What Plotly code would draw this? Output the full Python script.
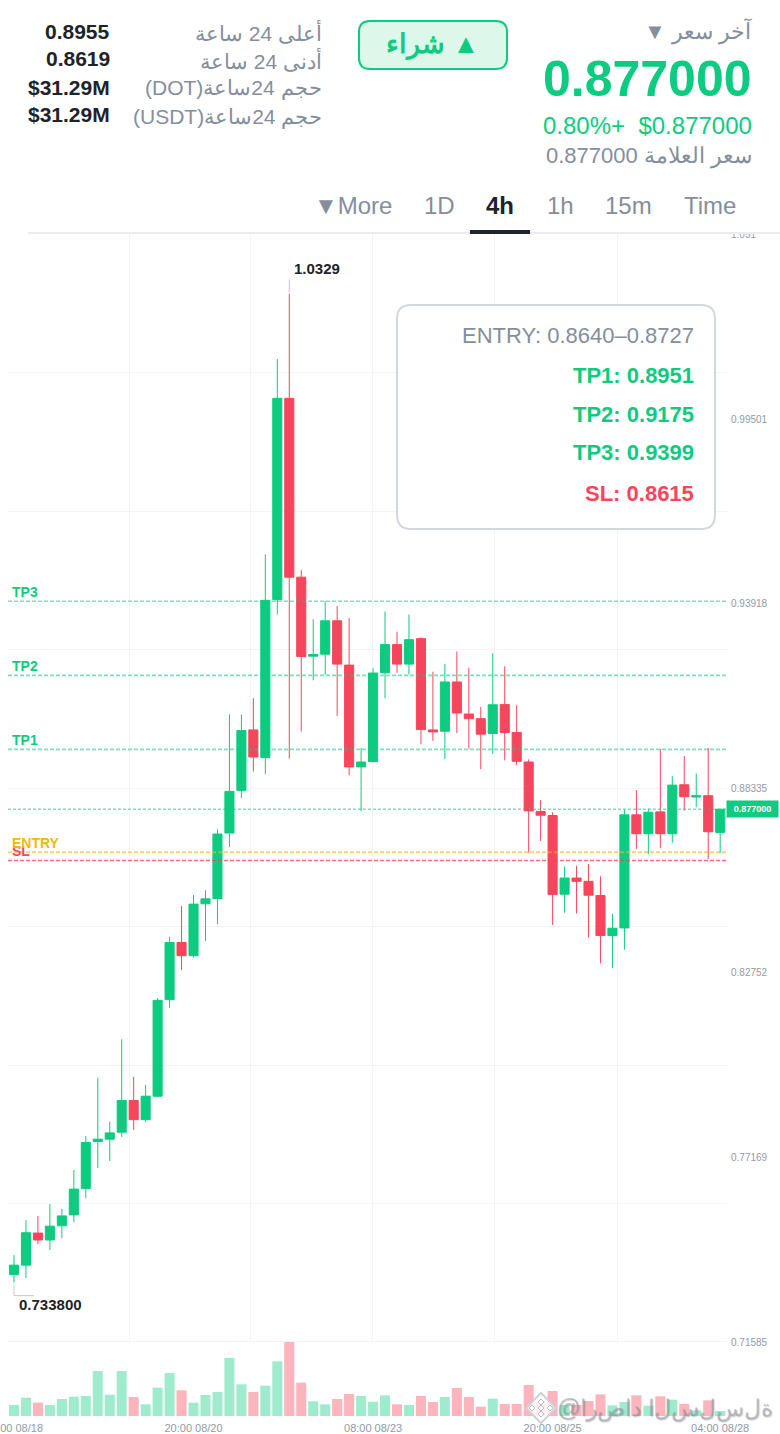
import plotly.graph_objects as go

W, H = 780, 1434

# 4h candles, 08:00 08/18 to 04:00 08/28
candle_idx = list(range(60))
tick_idx = [0, 15, 30, 45, 59]
tick_text = ["08:00 08/18", "20:00 08/20", "08:00 08/23", "20:00 08/25", "04:00 08/28"]

opens = [.7363, .7391, .7488, .7467, .7510, .7543, .7623, .7765, .7772, .7793,
         .7889, .7831, .7902, .8194, .8367, .8327, .8484, .8500, .8698, .8827,
         .9010, .8926, .9404, 1.0013, .9472, .9233, .9239, .9340, .9206, .8898,
         .8914, .9183, .9268, .9209, .9286, .9010, .9006, .9155, .9058, .9044,
         .8999, .9087, .9002, .8913, .8763, .8751, .8513, .8562, .8552, .8509,
         .8388, .8411, .8753, .8696, .8762, .8696, .8844, .8807, .8811, .8700]
closes = [.7391, .7489, .7467, .7509, .7540, .7621, .7762, .7772, .7791, .7889,
          .7831, .7902, .8192, .8367, .8327, .8483, .8499, .8695, .8824, .9008,
          .8928, .9402, 1.0013, .9472, .9232, .9238, .9340, .9209, .8898, .8913,
          .9182, .9268, .9209, .9283, .9011, .9004, .9155, .9061, .9044, .8997,
          .9086, .9002, .8915, .8765, .8752, .8512, .8562, .8552, .8510, .8388,
          .8410, .8753, .8696, .8761, .8696, .8843, .8808, .8811, .8702, .8770]
highs = [.7422, .7527, .7540, .7576, .7561, .7679, .7782, .7958, .7825, .8074,
         .7960, .7936, .8199, .8384, .8477, .8511, .8525, .8709, .9057, .9057,
         .9106, .9541, 1.0132, 1.0329, .9493, .9345, .9399, .9385, .9348, .8955,
         .9197, .9368, .9307, .9359, .9290, .9186, .9209, .9247, .9198, .9079,
         .9242, .9202, .9085, .8921, .8798, .8761, .8597, .8599, .8604, .8567,
         .8454, .8769, .8828, .8772, .8952, .8870, .8931, .8878, .8955, .8770]
lows = [.7338, .7352, .7455, .7437, .7473, .7521, .7594, .7685, .7706, .7779,
        .7800, .7824, .7899, .8169, .8284, .8322, .8372, .8422, .8656, .8804,
        .8884, .8876, .9359, .8923, .9005, .9160, .9177, .9052, .8873, .8764,
        .8912, .9106, .9183, .9177, .8967, .8977, .8922, .9000, .8953, .8891,
        .8937, .8918, .8904, .8639, .8674, .8420, .8457, .8455, .8382, .8304,
        .8290, .8345, .8650, .8634, .8652, .8668, .8766, .8777, .8619, .8638]
volumes = [33, 55, 40, 33, 51, 58, 60, 135, 64, 135,
           57, 35, 85, 129, 77, 40, 63, 72, 174, 95,
           72, 91, 164, 222, 100, 44, 35, 51, 66, 60,
           43, 62, 35, 33, 60, 42, 57, 84, 57, 28,
           52, 36, 36, 93, 45, 75, 33, 33, 45, 65,
           32, 42, 62, 31, 59, 49, 36, 17, 47, 15]

price_ticks = [0.71585, 0.77169, 0.82752, 0.88335, 0.93918, 0.99501, 1.051]
price_text = ["0.71585", "0.77169", "0.82752", "0.88335", "0.93918", "0.99501", "1.051"]
price_grid = [0.75774, 0.79963, 0.84152, 0.88341, 0.9253, 0.96719, 1.00908]
time_grid = [-0.47, 9.69, 19.8, 29.99, 40.18, 50.38]

levels = [("TP3", 0.9399), ("TP2", 0.9175), ("TP1", 0.8951), ("ENTRY", 0.8640), ("SL", 0.8615)]
last_price = 0.8770

GREEN = "#0ecb81"
RED = "#f6465d"
GREY = "#848e9c"
DARK = "#1e2329"
AXIS_GREY = "#929aa5"
GRID = "#f3f4f6"
FONT = "Liberation Sans, Arial, sans-serif"
RLE = "\u202b"


def px(x):
    return x / W


def py(y):
    return 1 - y / H


def label(text, x, y, size, color, anchor="right", bold=False):
    nudge = {"right": 1, "left": -1, "center": 0}[anchor]
    return dict(text=text, x=px(x), y=py(y), xref="paper", yref="paper", xanchor=anchor, yanchor="middle",
                showarrow=False, align=anchor, borderpad=0, xshift=nudge,
                font=dict(family=FONT, size=size, color=color, weight=700 if bold else 400))


def round_rect(x0, y0, x1, y1, r):
    # rounded box in paper units, r in pixels
    p = lambda x, y: "%.5f,%.5f" % (px(x), py(y))
    return ("M " + p(x0 + r, y0) + " L " + p(x1 - r, y0) + " Q " + p(x1, y0) + " " + p(x1, y0 + r)
            + " L " + p(x1, y1 - r) + " Q " + p(x1, y1) + " " + p(x1 - r, y1)
            + " L " + p(x0 + r, y1) + " Q " + p(x0, y1) + " " + p(x0, y1 - r)
            + " L " + p(x0, y0 + r) + " Q " + p(x0, y0) + " " + p(x0 + r, y0) + " Z")


def diamond(cx, cy, r):
    return "M %.5f,%.5f L %.5f,%.5f L %.5f,%.5f L %.5f,%.5f Z" % (
        px(cx), py(cy - r), px(cx + r), py(cy), px(cx), py(cy + r), px(cx - r), py(cy))


fig = go.Figure()

fig.add_trace(go.Candlestick(
    x=candle_idx, open=opens, high=highs, low=lows, close=closes,
    whiskerwidth=0,
    increasing=dict(line=dict(color=GREEN, width=1), fillcolor=GREEN),
    decreasing=dict(line=dict(color=RED, width=1), fillcolor=RED),
    showlegend=False, xaxis="x", yaxis="y"
))

vol_colors = ["#a0ebce" if c >= o else "#fcb4bd" for o, c in zip(opens, closes)]
fig.add_trace(go.Bar(x=candle_idx, y=volumes, marker=dict(color=vol_colors, line=dict(width=0)),
                     showlegend=False, xaxis="x2", yaxis="y2"))

shapes = []

# white header cover, hides the top of the 1.051 label like the original
shapes.append(dict(type="rect", xref="paper", yref="paper", x0=0, x1=1, y0=py(232), y1=1,
                   fillcolor="white", line=dict(width=0), layer="above"))
shapes.append(dict(type="rect", xref="paper", yref="paper", x0=px(28), x1=1, y0=py(234), y1=py(232),
                   fillcolor="#eaecef", line=dict(width=0), layer="above"))
shapes.append(dict(type="rect", xref="paper", yref="paper", x0=px(470), x1=px(530), y0=py(234), y1=py(230),
                   fillcolor=DARK, line=dict(width=0), layer="above"))

# buy button and info box
shapes.append(dict(type="path", xref="paper", yref="paper", path=round_rect(359, 21, 507, 69, 11),
                   fillcolor="#def7eb", line=dict(color=GREEN, width=2), layer="above"))
shapes.append(dict(type="path", xref="paper", yref="paper", path=round_rect(397, 305, 715, 529, 14),
                   fillcolor="white", line=dict(color="#d3d7de", width=2), layer="above"))

# thicker base line between candles and volume
shapes.append(dict(type="line", xref="x domain", yref="y", x0=0, x1=1, y0=0.71585, y1=0.71585,
                   line=dict(color="#f1f2f4", width=2), layer="below"))

# price levels
level_style = {"TP3": ("rgba(14,203,129,0.55)", 1.6), "TP2": ("rgba(14,203,129,0.55)", 1.6),
               "TP1": ("rgba(14,203,129,0.55)", 1.6), "ENTRY": ("rgba(240,185,11,0.6)", 2),
               "SL": ("rgba(246,70,93,0.8)", 1.5)}
for name, val in levels:
    color, width = level_style[name]
    shapes.append(dict(type="line", xref="x domain", yref="y", x0=0, x1=1, y0=val, y1=val,
                       line=dict(color=color, width=width, dash="4px,2px"), layer="above"))
shapes.append(dict(type="line", xref="x domain", yref="y", x0=0, x1=1, y0=last_price, y1=last_price,
                   line=dict(color="rgba(14,203,129,0.55)", width=1.6, dash="3px,2px"), layer="above"))

# high / low pointers, offset in pixels from the candle
shapes.append(dict(type="path", xref="x", yref="y", xsizemode="pixel", ysizemode="pixel",
                   xanchor=23, yanchor=1.0329, path="M 0 1 L 0 14",
                   line=dict(color="#c4c8ce", width=1), layer="above"))
shapes.append(dict(type="path", xref="x", yref="y", xsizemode="pixel", ysizemode="pixel",
                   xanchor=0, yanchor=0.7338, path="M 0 -2 L 0 -13 L 20 -13",
                   line=dict(color="#c4c8ce", width=1), layer="above"))

# watermark logo
shapes.append(dict(type="path", xref="paper", yref="paper", path=diamond(541, 1408, 15),
                   fillcolor="rgba(255,255,255,0.75)", line=dict(color="#cfd2d6", width=2), layer="above"))
for dx, dy in [(-9, 0), (9, 0), (0, 0), (0, -6), (0, 6)]:
    shapes.append(dict(type="path", xref="paper", yref="paper", path=diamond(541 + dx, 1408 + dy, 3),
                       fillcolor="white", line=dict(color="#b9bcc2", width=1), layer="above"))

notes = [
    label(RLE + "آخر سعر ▼", 752, 32, 22, GREY),
    label("0.877000", 752, 79, 50, GREEN, bold=True),
    label(RLE + "$0.877000  +0.80%", 752, 126, 24, GREEN),
    label(RLE + "سعر العلامة 0.877000", 752, 156, 22, GREY),
    label(RLE + "▲ شراء", 432, 45, 27, GREEN, anchor="center", bold=True),

    label(RLE + "أعلى 24 ساعة", 322, 32, 21, GREY),
    label(RLE + "أدنى 24 ساعة", 322, 60, 21, GREY),
    label(RLE + "حجم 24ساعة(DOT)", 322, 89, 21, GREY),
    label(RLE + "حجم 24ساعة(USDT)", 322, 117, 21, GREY),
    label("0.8955", 110, 31, 21, DARK, bold=True),
    label("0.8619", 110, 59, 21, DARK, bold=True),
    label("$31.29M", 110, 87, 21, DARK, bold=True),
    label("$31.29M", 110, 115, 21, DARK, bold=True),

    label("▼More", 353, 206, 24, GREY, anchor="center"),
    label("1D", 439, 206, 24, GREY, anchor="center"),
    label("4h", 500, 206, 24, DARK, anchor="center", bold=True),
    label("1h", 560, 206, 24, GREY, anchor="center"),
    label("15m", 628, 206, 24, GREY, anchor="center"),
    label("Time", 710, 206, 24, GREY, anchor="center"),

    label("ENTRY: 0.8640–0.8727", 694, 335, 22, GREY),
    label("TP1: 0.8951", 694, 375, 22, GREEN, bold=True),
    label("TP2: 0.9175", 694, 415, 22, GREEN, bold=True),
    label("TP3: 0.9399", 694, 453, 22, GREEN, bold=True),
    label("SL: 0.8615", 694, 493, 22, "#f6465d", bold=True),

    label("TP3", 12, 592, 14, GREEN, anchor="left", bold=True),
    label("TP2", 12, 666, 14, GREEN, anchor="left", bold=True),
    label("TP1", 12, 740, 14, GREEN, anchor="left", bold=True),
    label("SL", 12, 851, 14, RED, anchor="left", bold=True),
    label("ENTRY", 12, 843, 14, "#f0b90b", anchor="left", bold=True),

    label("1.0329", 294, 269, 15, DARK, anchor="left", bold=True),
    label("0.733800", 19, 1304, 15, DARK, anchor="left", bold=True),

    dict(text="0.877000", xref="paper", yref="y", x=px(752), y=last_price, showarrow=False,
         xanchor="center", yanchor="middle", width=51, height=16, bgcolor=GREEN, borderpad=0,
         font=dict(family=FONT, size=9, color="white", weight=700)),

    # watermark text, letters drawn one by one left to right
    dict(text="\u202d@ا\u200cر\u200cص\u200cا\u200cد ا\u200cل\u200cس\u200cل\u200cس\u200cل\u200cة\u202c",
         xref="paper", yref="paper", x=px(775), y=py(1408), showarrow=False, xanchor="right", yanchor="middle",
         font=dict(family=FONT, size=23, color="rgba(150,155,165,0.6)", shadow="1px 1px 1px rgba(0,0,0,0.3)")),
]

fig.update_layout(
    width=W, height=H, autosize=False,
    margin=dict(l=0, r=0, t=0, b=0, autoexpand=False),
    paper_bgcolor="white", plot_bgcolor="white",
    font=dict(family=FONT),
    showlegend=False,
    boxgap=0.24, boxgroupgap=0, bargap=0.16,
    shapes=shapes, annotations=notes,
    xaxis=dict(domain=[px(8), px(727)], range=[-0.5, 59.57], anchor="y", showticklabels=False, automargin=False,
               showgrid=False, zeroline=False, rangeslider=dict(visible=False), ticks="",
               tickmode="array", tickvals=[],
               minor=dict(tickmode="array", tickvals=time_grid, showgrid=True, gridcolor=GRID, gridwidth=1, ticks="")),
    xaxis2=dict(domain=[px(8), px(727)], range=[-0.5, 59.57], anchor="y2", matches="x", automargin=False,
                showgrid=False, zeroline=False, ticks="", ticklabeloverflow="allow", ticklabelstandoff=4,
                tickmode="array", tickvals=tick_idx, ticktext=tick_text,
                tickfont=dict(family=FONT, size=11, color=AXIS_GREY)),
    yaxis=dict(domain=[py(1342), py(234)], range=[0.71585, 1.051], side="right", anchor="x", automargin=False,
               showgrid=False, zeroline=False, ticks="", ticklabelstandoff=3, ticklabeloverflow="allow",
               tickmode="array", tickvals=price_ticks, ticktext=price_text,
               tickfont=dict(family=FONT, size=10, color=AXIS_GREY),
               minor=dict(tickmode="array", tickvals=price_grid, showgrid=True, gridcolor=GRID, gridwidth=1, ticks="")),
    yaxis2=dict(domain=[py(1416), py(1342)], range=[0, 222], anchor="x2", visible=False, automargin=False),
)

fig.write_html("out.html", config=dict(displayModeBar=False),
               post_script="document.body.style.margin='0';document.body.style.overflow='hidden';")
